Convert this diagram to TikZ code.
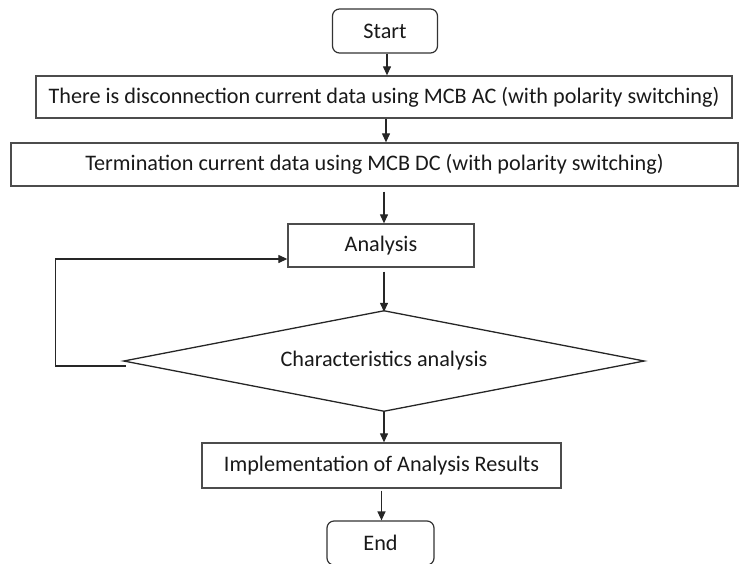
\documentclass[tikz,border=0pt]{standalone}
\usepackage{fontspec}
\setmainfont{Carlito}
\usetikzlibrary{shapes.geometric,arrows.meta}
\begin{document}
\begin{tikzpicture}[x=1pt,y=-1pt,
  every node/.style={font=\fontsize{22.2}{26}\selectfont, text=black!90, inner sep=0pt},
  boxnode/.style={draw=black!70, line width=1.3pt, rectangle},
  termnode/.style={draw=black!80, line width=1.2pt, rectangle, rounded corners=7pt},
  decnode/.style={draw=black!85, line width=1.3pt, diamond, aspect=5.2},
  arr/.style={draw=black!85, line width=1.2pt, -{Triangle[length=9pt,width=8pt]}}]
\useasboundingbox (0,0) rectangle (739,563);
\node[termnode, minimum width=105pt, minimum height=44pt] (start) at (385,31) {Start};
\node[boxnode, minimum width=696pt, minimum height=42pt] (b1) at (384,97) {There is disconnection current data using MCB AC (with polarity switching)};
\node[boxnode, minimum width=727pt, minimum height=43pt] (b2) at (374.5,164.5) {Termination current data using MCB DC (with polarity switching)};
\node[boxnode, minimum width=186pt, minimum height=43pt] (ana) at (381,245.5) {Analysis};
\node[decnode, minimum width=521pt, minimum height=101pt] (dia) at (384,361) {Characteristics analysis};
\node[boxnode, minimum width=359pt, minimum height=45pt] (impl) at (381.5,465.5) {Implementation of Analysis Results};
\node[termnode, minimum width=107pt, minimum height=44pt] (end) at (380.5,543) {End};
\draw[arr] ([xshift=2pt]start.south) -- ([xshift=2pt]start.south |- b1.north);
\draw[arr] ([xshift=2pt]b1.south) -- ([xshift=2pt]b1.south |- b2.north);
\draw[arr] (dia.north |- b2.south) ++(0,5) coordinate (a3) -- (a3 |- ana.north);
\draw[arr] (dia.north |- ana.south) ++(0,4) coordinate (a4) -- ([yshift=-2pt]a4 |- dia.north);
\draw[arr] (dia.south) -- (dia.south |- impl.north);
\draw[arr] (impl.south) ++(0,2) coordinate (a6) -- (a6 |- end.north);
\draw[arr] ([xshift=3pt,yshift=-5pt]dia.west) -- ++(-70,0) |- ([yshift=-13.5pt]ana.west);
\end{tikzpicture}
\end{document}
